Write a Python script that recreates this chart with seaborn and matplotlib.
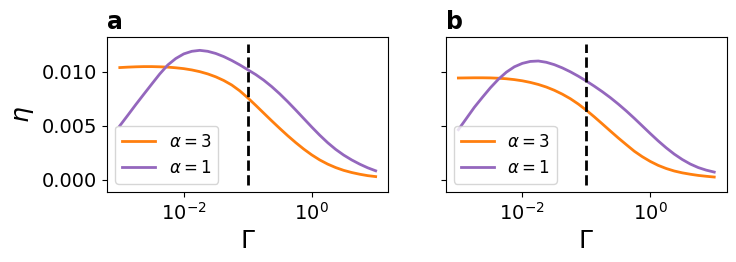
import numpy as np
import pandas as pd
import matplotlib
matplotlib.use("Agg")
import matplotlib.pyplot as plt
import seaborn as sns

# Gamma grid (eighth decades from 1e-3 to 1e1)
gamma = [1.000e-3, 1.334e-3, 1.778e-3, 2.371e-3, 3.162e-3, 4.217e-3, 5.623e-3, 7.499e-3,
         1.000e-2, 1.334e-2, 1.778e-2, 2.371e-2, 3.162e-2, 4.217e-2, 5.623e-2, 7.499e-2,
         1.000e-1, 1.334e-1, 1.778e-1, 2.371e-1, 3.162e-1, 4.217e-1, 5.623e-1, 7.499e-1,
         1.000, 1.334, 1.778, 2.371, 3.162, 4.217, 5.623, 7.499, 10.0]

# panel a
eta_a_alpha3 = [0.01041, 0.01045, 0.01048, 0.01050, 0.01050, 0.01048, 0.01045, 0.01039,
                0.01031, 0.01019, 0.01003, 0.00982, 0.00955, 0.00921, 0.00879, 0.00825,
                0.00760, 0.00690, 0.00618, 0.00546, 0.00476, 0.00408, 0.00344, 0.00284,
                0.00230, 0.00183, 0.00144, 0.00112, 0.00086, 0.00066, 0.00050, 0.00037, 0.00028]
eta_a_alpha1 = [0.00500, 0.00598, 0.00697, 0.00793, 0.00888, 0.00982, 0.01065, 0.01125,
                0.01168, 0.01192, 0.01201, 0.01192, 0.01172, 0.01143, 0.01107, 0.01066,
                0.01021, 0.00976, 0.00924, 0.00864, 0.00797, 0.00724, 0.00647, 0.00568,
                0.00489, 0.00413, 0.00343, 0.00281, 0.00228, 0.00183, 0.00144, 0.00110, 0.00082]

# panel b
eta_b_alpha3 = [0.00944, 0.00945, 0.00946, 0.00946, 0.00945, 0.00942, 0.00937, 0.00929,
                0.00918, 0.00903, 0.00884, 0.00860, 0.00830, 0.00794, 0.00752, 0.00702,
                0.00645, 0.00583, 0.00518, 0.00452, 0.00387, 0.00325, 0.00264, 0.00213,
                0.00169, 0.00132, 0.00103, 0.00080, 0.00063, 0.00050, 0.00039, 0.00031, 0.00024]
eta_b_alpha1 = [0.00464, 0.00568, 0.00672, 0.00764, 0.00853, 0.00932, 0.00998, 0.01048,
                0.01080, 0.01098, 0.01102, 0.01090, 0.01068, 0.01038, 0.01002, 0.00961,
                0.00916, 0.00868, 0.00817, 0.00762, 0.00702, 0.00638, 0.00570, 0.00499,
                0.00428, 0.00359, 0.00295, 0.00237, 0.00187, 0.00145, 0.00112, 0.00088, 0.00070]

panel_labels = ["a", "b"]
gamma_c = 0.1
vline_lo, vline_hi = -0.0005, 0.0126

fig, axes = plt.subplots(1, 2, figsize=(7.36, 2.62), dpi=100, sharey=True)
fig.subplots_adjust(left=0.1454, right=0.9878, top=0.859, bottom=0.267, wspace=0.203)

panels = [(eta_a_alpha3, eta_a_alpha1), (eta_b_alpha3, eta_b_alpha1)]
for ax, (e3, e1), lab in zip(axes, panels, panel_labels):
    sns.lineplot(x=gamma, y=e3, ax=ax, color="tab:orange", lw=2, label=r"$\alpha = 3$")
    sns.lineplot(x=gamma, y=e1, ax=ax, color="tab:purple", lw=2, label=r"$\alpha = 1$")
    ax.vlines(gamma_c, vline_lo, vline_hi, colors="k", linestyles="--", lw=2)
    ax.set_xscale("log")
    ax.set_xlabel(r"$\Gamma$", fontsize=18)
    ax.set_title(lab, loc="left", fontweight="bold", fontsize=17)
    ax.tick_params(labelsize=14)
    ax.legend(loc="lower left", fontsize=12)

axes[0].set_ylabel(r"$\eta$", fontsize=18)

fig.savefig("out.png", dpi=100)
